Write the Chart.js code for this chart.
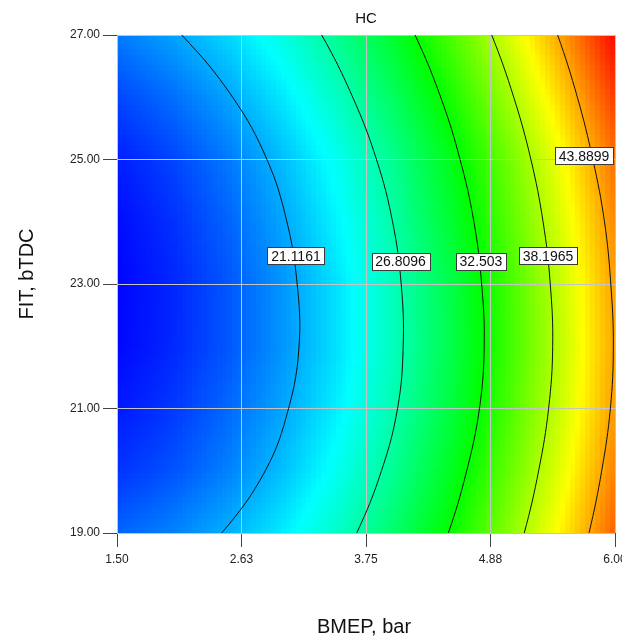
<!DOCTYPE html>
<html>
<head>
<meta charset="utf-8">
<title>HC</title>
<script src="https://cdn.jsdelivr.net/npm/chart.js@4.4.0/dist/chart.umd.min.js"></script>
<style>
  html, body { margin: 0; padding: 0; background: #fff; }
  canvas { display: block; }
</style>
</head>
<body>
<canvas id="hc" width="622" height="639"></canvas>
<script>
// HC response surface over BMEP (bar) and FIT (deg bTDC)
const bmep = [1.5, 2.0, 2.5, 3.0, 3.5, 4.0, 4.5, 5.0, 5.5, 6.0];
const fit = [19, 20, 21, 22, 23, 24, 25, 26, 27];
const hc = [
  [18.76, 19.78, 21.31, 23.35, 25.90, 28.97, 32.55, 36.64, 41.24, 46.36], // FIT 19
  [17.10, 18.15, 19.73, 21.86, 24.50, 27.64, 31.28, 35.43, 40.07, 45.23], // FIT 20
  [16.20, 17.25, 18.89, 20.96, 23.55, 26.67, 30.31, 34.48, 39.17, 44.38], // FIT 21
  [15.63, 16.70, 18.29, 20.41, 23.04, 26.20, 29.89, 34.09, 38.82, 44.08], // FIT 22
  [15.53, 16.65, 18.28, 20.43, 23.10, 26.30, 30.01, 34.25, 39.01, 44.29], // FIT 23
  [15.78, 17.01, 18.74, 20.98, 23.72, 26.97, 30.72, 34.97, 39.73, 44.99], // FIT 24
  [16.38, 17.67, 19.46, 21.74, 24.52, 27.80, 31.57, 35.83, 40.59, 45.85], // FIT 25
  [17.74, 19.07, 20.89, 23.21, 26.03, 29.35, 33.16, 37.48, 42.29, 47.60], // FIT 26
  [19.55, 20.85, 22.65, 24.96, 27.77, 31.09, 34.91, 39.24, 44.07, 49.41], // FIT 27
];

// colour scale runs from the lowest to the highest predicted HC
const hcMin = 15.4226;
const hcMax = 49.5834;
const colorStops = [[0, 0, 255], [0, 255, 255], [0, 255, 0], [255, 255, 0], [255, 0, 0]];

// contour levels; each iso-line is given as BMEP at these FIT values
// (the end points run just past the axis limits and get clipped)
const contourLevels = [21.1161, 26.8096, 32.503, 38.1965, 43.8899];
const contourFit = [28, 27, 26, 25, 24, 23, 22, 21, 20, 19, 18];
const c1Bmep = [1.495, 2.085, 2.545, 2.855, 3.035, 3.128, 3.145, 3.05, 2.84, 2.446, 1.896];
const c2Bmep = [3.0, 3.35, 3.63, 3.845, 3.99, 4.068, 4.086, 4.035, 3.89, 3.666, 3.366];
const c3Bmep = [3.903, 4.193, 4.425, 4.6, 4.725, 4.795, 4.818, 4.775, 4.66, 4.494, 4.274];
const c4Bmep = [4.641, 4.886, 5.085, 5.24, 5.35, 5.415, 5.437, 5.4, 5.31, 5.18, 5.01];
const c5Bmep = [5.267, 5.482, 5.66, 5.8, 5.905, 5.962, 5.985, 5.958, 5.88, 5.765, 5.615];

// where each contour value is printed
const labelBmep = [3.117, 4.062, 4.789, 5.394, 5.72];
const labelFit = [23.45, 23.36, 23.36, 23.45, 25.06];

const xTicks = [1.5, 2.625, 3.75, 4.875, 6.0];
const xTickLabels = ['1.50', '2.63', '3.75', '4.88', '6.00'];
const yTicks = [19, 21, 23, 25, 27];

const FONT = "'Liberation Sans', Arial, sans-serif";

const contourLines = [c1Bmep, c2Bmep, c3Bmep, c4Bmep, c5Bmep];

function colorFor(v) {
  let t = (v - hcMin) / (hcMax - hcMin);
  t = Math.min(1, Math.max(0, t)) * (colorStops.length - 1);
  const k = Math.min(colorStops.length - 2, Math.floor(t));
  const f = t - k;
  const a = colorStops[k], b = colorStops[k + 1];
  const c = a.map((av, n) => Math.round(av + (b[n] - av) * f));
  return `rgb(${c[0]},${c[1]},${c[2]})`;
}

// bilinear lookup in the hc table
function hcAt(b, f) {
  const locate = (arr, v) => {
    let i = 0;
    while (i < arr.length - 2 && v > arr[i + 1]) i++;
    return [i, (v - arr[i]) / (arr[i + 1] - arr[i])];
  };
  const [i, u] = locate(bmep, b);
  const [j, w] = locate(fit, f);
  const top = hc[j][i] * (1 - u) + hc[j][i + 1] * u;
  const bot = hc[j + 1][i] * (1 - u) + hc[j + 1][i + 1] * u;
  return top * (1 - w) + bot * w;
}

const surfacePlugin = {
  id: 'hcSurface',
  beforeDraw(chart) {
    const { ctx, scales: { x, y } } = chart;
    const n = 100;
    const bStep = (x.max - x.min) / n;
    const fStep = (y.max - y.min) / n;
    ctx.save();
    for (let i = 0; i < n; i++) {
      const b0 = x.min + i * bStep;
      const px0 = Math.round(x.getPixelForValue(b0));
      const px1 = Math.round(x.getPixelForValue(b0 + bStep));
      for (let j = 0; j < n; j++) {
        const f0 = y.min + j * fStep;
        const py0 = Math.round(y.getPixelForValue(f0 + fStep));
        const py1 = Math.round(y.getPixelForValue(f0));
        ctx.fillStyle = colorFor(hcAt(b0 + bStep / 2, f0 + fStep / 2));
        ctx.fillRect(px0, py0, px1 - px0, py1 - py0);
      }
    }
    ctx.restore();
  },
};

const contourLabelPlugin = {
  id: 'contourLabels',
  afterDatasetsDraw(chart) {
    const { ctx, chartArea: area, scales: { x, y } } = chart;
    ctx.save();
    ctx.beginPath();
    ctx.rect(area.left, area.top, area.right - area.left, area.bottom - area.top);
    ctx.clip();
    ctx.font = `14px ${FONT}`;
    ctx.textAlign = 'center';
    ctx.textBaseline = 'middle';
    contourLevels.forEach((lvl, i) => {
      const text = String(lvl);
      const cx = x.getPixelForValue(labelBmep[i]);
      const cy = y.getPixelForValue(labelFit[i]);
      const w = Math.round(ctx.measureText(text).width + 7);
      const h = 17;
      const left = Math.round(cx - w / 2) + 0.5;
      const top = Math.round(cy - h / 2) + 0.5;
      ctx.fillStyle = '#fff';
      ctx.fillRect(left, top, w, h);
      ctx.strokeStyle = '#3a3a3a';
      ctx.lineWidth = 1;
      ctx.strokeRect(left, top, w, h);
      ctx.fillStyle = '#111';
      ctx.fillText(text, cx, cy + 1);
    });
    ctx.restore();
  },
};

const axisTitlePlugin = {
  id: 'axisTitles',
  afterDraw(chart) {
    const { ctx, chartArea: area } = chart;
    ctx.save();
    ctx.fillStyle = '#111';
    ctx.font = `20px ${FONT}`;
    ctx.textAlign = 'center';
    ctx.textBaseline = 'middle';
    ctx.fillText('BMEP, bar', (area.left + area.right) / 2 - 2, 627);
    ctx.translate(27, (area.top + area.bottom) / 2 - 10);
    ctx.rotate(-Math.PI / 2);
    ctx.fillText('FIT, bTDC', 0, 0);
    ctx.restore();
  },
};

const datasets = contourLines.map((bs, k) => ({
  label: String(contourLevels[k]),
  data: contourFit.map((f, i) => ({ x: bs[i], y: f })),
  showLine: true,
  borderColor: '#111',
  borderWidth: 1,
  pointRadius: 0,
  tension: 0.4,
  fill: false,
  clip: 0,
}));

const gridStyle = {
  color: '#c4c4c4',
  lineWidth: 1,
  tickColor: '#444',
  tickLength: 14,
};

new Chart(document.getElementById('hc'), {
  type: 'scatter',
  data: { datasets },
  options: {
    responsive: false,
    animation: false,
    events: [],
    layout: { padding: { left: 0, right: 7, top: 0, bottom: 0 } },
    plugins: {
      legend: { display: false },
      tooltip: { enabled: false },
      title: {
        display: true,
        text: 'HC',
        fullSize: false,
        color: '#111',
        font: { family: FONT, size: 15, weight: 'normal' },
        padding: { top: 10, bottom: 7 },
      },
    },
    scales: {
      x: {
        type: 'linear',
        min: 1.5,
        max: 6,
        border: { display: false },
        grid: gridStyle,
        afterBuildTicks: (s) => { s.ticks = xTicks.map(v => ({ value: v })); },
        afterFit: (s) => { s.height = 106; s.paddingLeft = 0; s.paddingRight = 0; },
        ticks: {
          autoSkip: false,
          maxRotation: 0,
          padding: 5,
          color: '#222',
          font: { family: FONT, size: 12 },
          callback: (v, i) => xTickLabels[i],
        },
      },
      y: {
        type: 'linear',
        min: 19,
        max: 27,
        border: { display: false },
        grid: gridStyle,
        afterBuildTicks: (s) => { s.ticks = yTicks.map(v => ({ value: v })); },
        afterFit: (s) => { s.width = 117; s.paddingTop = 0; s.paddingBottom = 0; },
        ticks: {
          autoSkip: false,
          padding: 3,
          color: '#222',
          font: { family: FONT, size: 12 },
          callback: (v) => Number(v).toFixed(2),
        },
      },
    },
  },
  plugins: [surfacePlugin, contourLabelPlugin, axisTitlePlugin],
});
</script>
</body>
</html>
